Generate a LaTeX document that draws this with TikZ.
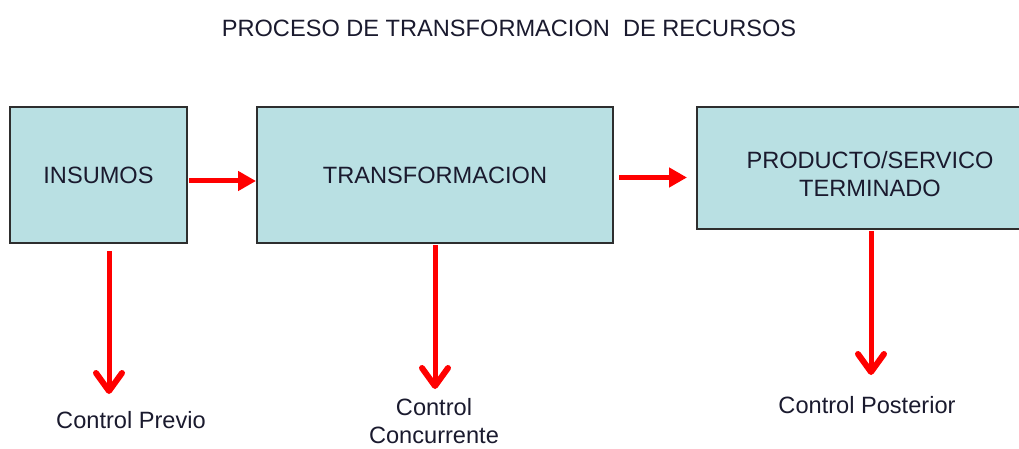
\documentclass[tikz,border=0pt]{standalone}
\usepackage{fontspec}
\setmainfont{Liberation Sans}
\usetikzlibrary{arrows.meta,calc}
\definecolor{boxfill}{HTML}{B9E0E3}
\definecolor{boxline}{HTML}{2E2E2E}
\definecolor{txt}{HTML}{1A1A2E}
\begin{document}
\begin{tikzpicture}[x=1pt,y=-1pt,
  txtfont/.style={font=\fontsize{23.6}{28}\selectfont,text=txt},
  box/.style={draw=boxline,line width=2pt,fill=boxfill,inner sep=0pt,txtfont,align=center},
  lbl/.style={txtfont,align=center,inner sep=0pt},
  harrow/.style={red,line width=5pt,-{Triangle[length=18pt,width=19pt]}},
  varrow/.style={red,line width=5pt,-{Straight Barb[length=18pt,width=26pt,line width=6pt,round]}}]
\clip (0,0) rectangle (1019,449);
\useasboundingbox (0,0) rectangle (1019,449);
\node[lbl] (title) at (509,28) {PROCESO DE TRANSFORMACION\ \ DE RECURSOS};
\node[box,minimum width=177pt,minimum height=136pt] (ins) at (98.5,175) {INSUMOS};
\node[box,minimum width=356pt,minimum height=136pt] (tr) at (435,175) {TRANSFORMACION};
\node[box,minimum width=346pt,minimum height=122pt,
  label={[lbl,yshift=-6pt]center:PRODUCTO/SERVICO\\TERMINADO}] (prod) at (870,168) {};
\node[lbl] (cp) at (131,420) {Control Previo};
\node[lbl] (cc) at (434,421) {Control\\Concurrente};
\node[lbl] (cpo) at (867,405) {Control Posterior};
\draw[harrow] ($(ins.east)+(1,6)$) -- ($(tr.west)+(0,6)$);
\draw[harrow] ($(tr.east)+(5,2.5)$) -- ($(prod.west)+(-9,9.5)$);
\draw[varrow] ($(ins.south)+(10.5,7)$) -- ($(ins.south)+(10.5,150)$);
\draw[varrow] ($(tr.south)+(0,1)$) -- ($(tr.south)+(0,145)$);
\draw[varrow] ($(prod.south)+(1,1)$) -- ($(prod.south)+(1,145)$);
\end{tikzpicture}
\end{document}
